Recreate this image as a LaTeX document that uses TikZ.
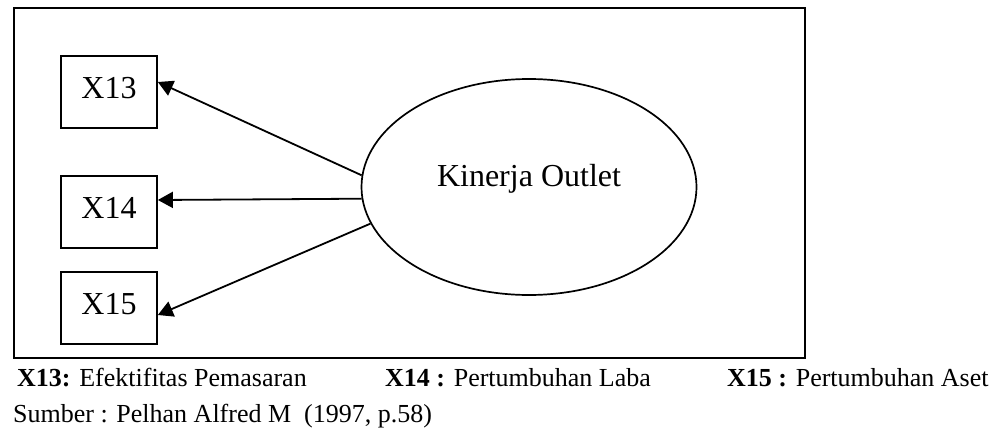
\documentclass[tikz,border=0pt]{standalone}
\usepackage{fontspec}
\setmainfont{Liberation Serif}
\usetikzlibrary{shapes.geometric,arrows.meta}

\tikzset{
  outerframe/.style={draw, line width=2.2pt, inner sep=0pt, anchor=north west,
    minimum width=791pt, minimum height=350pt},
  indicator/.style={draw, line width=1.7pt, inner sep=0pt,
    minimum width=96pt, minimum height=72pt,
    font=\fontsize{32}{38}\selectfont, text height=21pt, text depth=9pt},
  construct/.style={ellipse, draw, line width=1.7pt, inner sep=0pt,
    minimum width=335pt, minimum height=216pt,
    font=\fontsize{32}{38}\selectfont, text height=21pt, text depth=23pt},
  loading/.style={line width=1.8pt, -{Triangle[length=15pt,width=16pt]}},
  legend/.style={anchor=base west, inner sep=0pt, font=\fontsize{26}{30}\selectfont}
}

\begin{document}
\begin{tikzpicture}[x=1pt,y=-1pt]
  \useasboundingbox (0,0) rectangle (998,439);

  % surrounding frame
  \node[outerframe] (frame) at (13,7) {};

  % latent construct and its indicators
  \node[construct] (kinerja) at (529,187) {Kinerja Outlet};
  \node[indicator] (x13) at (109,92) {X13};
  \node[indicator] (x14) at (109,212) {X14};
  \node[indicator] (x15) at (109,308) {X15};

  % loadings
  \draw[loading] (kinerja.176) -- ([yshift=10pt]x13.east);
  \draw[loading] (kinerja.184.4) -- ([yshift=12pt]x14.east);
  \draw[loading] (kinerja.193.4) -- ([yshift=-7pt]x15.east);

  % key and source
  \node[legend] (k13) at (17,386) {\textbf{X13:} Efektifitas Pemasaran};
  \node[legend] (k14) at (385,386) {\textbf{X14 :} Pertumbuhan Laba};
  \node[legend] (k15) at (727,386) {\textbf{X15 :} Pertumbuhan Aset};
  \node[legend] (src) at (13,422) {Sumber : Pelhan Alfred M\ \ (1997, p.58)};
\end{tikzpicture}
\end{document}
